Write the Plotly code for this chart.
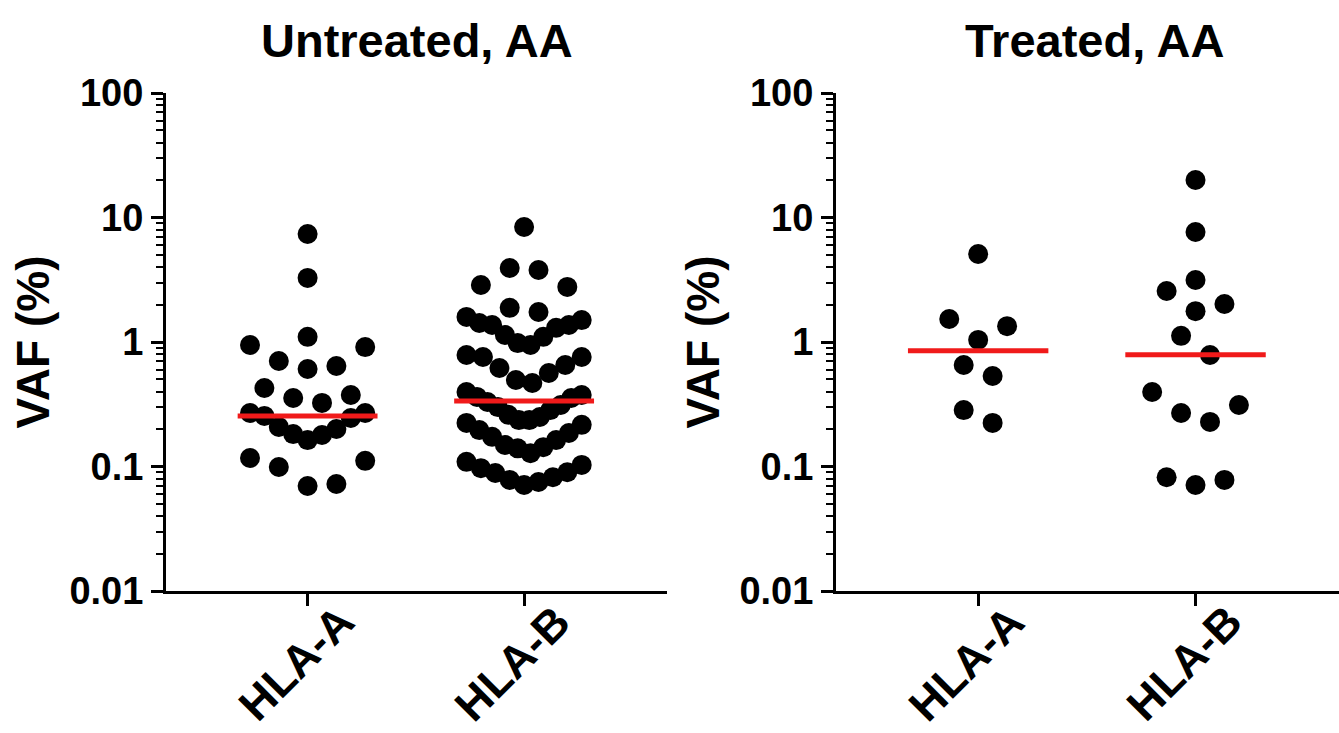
import numpy as np
import plotly.graph_objects as go

categories = ["HLA-A", "HLA-B"]
panel_titles = ["Untreated, AA", "Treated, AA"]
y_title = "VAF (%)"
y_tick_vals = [0.01, 0.1, 1, 10, 100]
y_tick_text = ["0.01", "0.1", "1", "10", "100"]

untreated_hla_a = [7.37, 3.27, 1.10, 0.91, 0.946, 0.642, 0.607, 0.704, 0.375, 0.324,
                   0.355, 0.427, 0.269, 0.245, 0.200, 0.179, 0.163, 0.182, 0.208,
                   0.255, 0.269, 0.117, 0.099, 0.111, 0.0697, 0.0723]
untreated_hla_b = [8.39, 3.79, 3.93, 2.87, 2.77,
                   1.88, 1.74, 1.59, 1.50, 1.42, 1.37, 1.37, 1.30, 1.14, 1.10, 0.98, 0.946,
                   0.787, 0.758, 0.618, 0.495, 0.468, 0.564, 0.654, 0.758,
                   0.397, 0.362, 0.330, 0.284, 0.312, 0.355, 0.375, 0.26, 0.30,
                   0.216, 0.186, 0.163, 0.143, 0.128, 0.149, 0.173, 0.196, 0.224,
                   0.250, 0.236, 0.236, 0.14,
                   0.109, 0.097, 0.0886, 0.078, 0.071, 0.075, 0.082, 0.090, 0.103]
treated_hla_a = [5.09, 1.53, 1.34, 1.04, 0.654, 0.533, 0.284, 0.224]
treated_hla_b = [20.0, 7.65, 3.15, 2.57, 2.02, 1.77, 1.12, 0.786, 0.397, 0.269,
                 0.228, 0.312, 0.082, 0.071, 0.078]
untreated_medians = [0.255, 0.336]
treated_medians = [0.85, 0.79]

panels = [
    ([untreated_hla_a, untreated_hla_b], untreated_medians),
    ([treated_hla_a, treated_hla_b], treated_medians),
]

# ---- layout geometry (pixels) ----
W, H = 1339, 733
ML, MR, MT, MB = 166, 0, 93, 142
plot_w = W - ML - MR
plot_h = H - MT - MB
x_range = [-0.654, 1.66]
left_dom = [0, 501 / plot_w]
right_dom = [(836 - ML) / plot_w, 1.0]
px_per_unit = 501 / (x_range[1] - x_range[0])
px_per_dec = plot_h / 4.0
STEP = 14.4        # px, column step of the dot layout
MAXHALF = 57.6     # px, max half-width of a row
ROW_H = 30.5       # px, vertical extent grouped into one row
MARKER = 20
HALF = 0.323


def dot_layout(vals, center):
    """Scatter-dot (column) layout: group by value into rows, spread each row."""
    ys = np.log10(np.asarray(vals, dtype=float)) * px_per_dec
    order = np.argsort(ys, kind="stable")
    rows, cur = [], []
    for i in order:
        if cur and ys[i] - ys[cur[0]] > ROW_H:
            rows.append(cur)
            cur = []
        cur.append(i)
    if cur:
        rows.append(cur)
    xs = np.zeros(len(ys))
    for row in rows:
        n = len(row)
        sp = min(2 * STEP, 2 * MAXHALF / (n - 1)) if n > 1 else 0.0
        for j, i in enumerate(row):
            if n % 2 == 1:
                k = (j + 1) // 2
                s = 1 if j % 2 == 1 else -1
                off = 0.0 if j == 0 else s * k * sp
            else:
                k = j // 2 + 0.5
                s = 1 if j % 2 == 0 else -1
                off = s * k * sp
            xs[i] = off
    return center + xs / px_per_unit


fig = go.Figure()
font_family = "Liberation Sans, Arial, sans-serif"

for p, (series, medians) in enumerate(panels):
    xa = "x" if p == 0 else "x2"
    ya = "y" if p == 0 else "y2"
    for ci, vals in enumerate(series):
        fig.add_trace(go.Scatter(
            x=dot_layout(vals, ci), y=vals, mode="markers", xaxis=xa, yaxis=ya,
            marker=dict(size=MARKER, color="black", line=dict(width=0)),
            showlegend=False, hoverinfo="y"))
    for ci, m in enumerate(medians):
        fig.add_trace(go.Scatter(
            x=[ci - HALF, ci + HALF], y=[m, m], mode="lines", xaxis=xa, yaxis=ya,
            line=dict(color="#f01a1a", width=5), showlegend=False, hoverinfo="skip"))
    for ci, cat in enumerate(categories):
        fig.add_annotation(text=cat, x=ci, xref=xa, y=-72 / plot_h, yref="paper",
                           xshift=-12, textangle=-45, showarrow=False,
                           xanchor="center", yanchor="middle",
                           font=dict(family=font_family, size=45, color="black",
                                     weight="bold"))

minor_vals = [k * 10.0 ** e for e in range(-2, 2) for k in range(2, 10)]

axis_common = dict(showline=True, linecolor="black", linewidth=3, ticks="outside",
                   tickwidth=3, tickcolor="black", showgrid=False, zeroline=False)

for p in range(2):
    sx = "" if p == 0 else "2"
    fig.update_layout(**{
        "xaxis" + sx: dict(
            **axis_common, domain=left_dom if p == 0 else right_dom, range=x_range,
            tickmode="array", tickvals=[0, 1], ticktext=categories, ticklen=12,
            showticklabels=False, anchor="y" + sx),
        "yaxis" + sx: dict(
            **axis_common, type="log", range=[-2, 2], anchor="x" + sx,
            tickmode="array", tickvals=y_tick_vals, ticktext=y_tick_text, ticklen=12,
            minor=dict(tickmode="array", tickvals=minor_vals, ticks="outside", ticklen=7,
                       tickwidth=2, tickcolor="black"),
            tickfont=dict(family=font_family, size=38, color="black", weight="bold"),
            title=dict(text=y_title, standoff=6,
                       font=dict(family=font_family, size=46, color="black", weight="bold"))),
    })

centers = [(left_dom[0] + left_dom[1]) / 2, (right_dom[0] + right_dom[1]) / 2 + 7 / plot_w]
for t, cx in zip(panel_titles, centers):
    fig.add_annotation(text=t, x=cx, y=(H - 40 - MB) / plot_h, xref="paper", yref="paper",
                       showarrow=False, xanchor="center", yanchor="middle",
                       font=dict(family=font_family, size=47, color="black", weight="bold"))

fig.update_layout(width=W, height=H, margin=dict(l=ML, r=MR, t=MT, b=MB, autoexpand=False),
                  plot_bgcolor="white", paper_bgcolor="white")

fig.write_html("out.html")
